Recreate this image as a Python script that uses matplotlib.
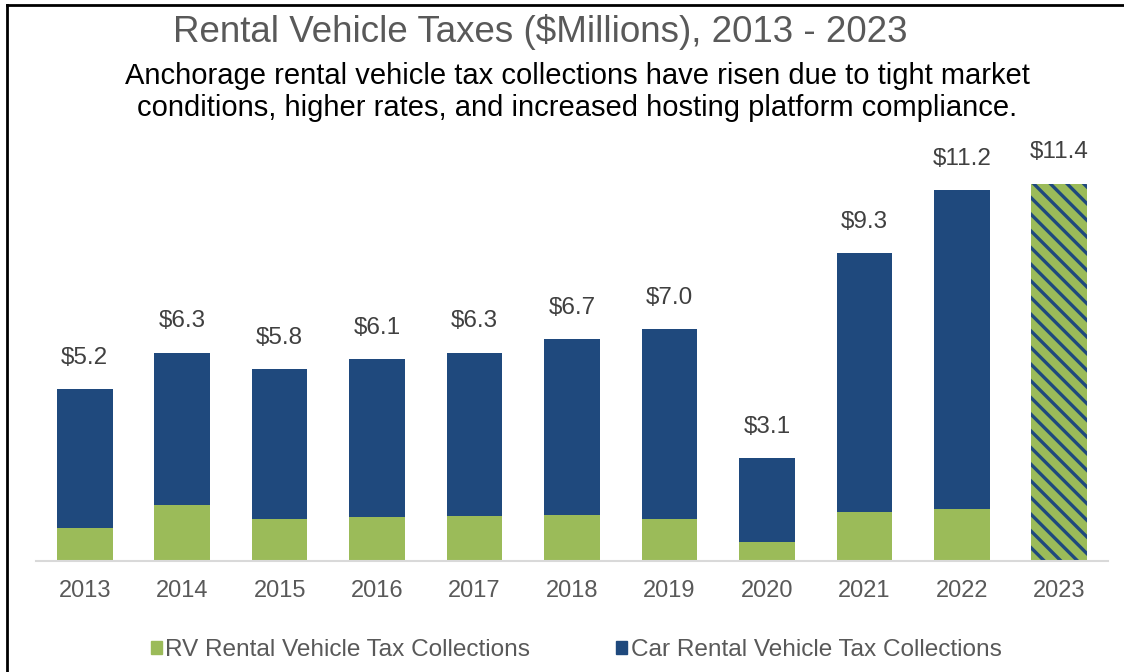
import matplotlib
matplotlib.use('Agg')
import matplotlib.pyplot as plt
from matplotlib.lines import Line2D
from matplotlib.patches import Patch

plt.rcParams['font.family'] = ['Liberation Sans', 'DejaVu Sans']
plt.rcParams['hatch.linewidth'] = 2.4

years = ['2013', '2014', '2015', '2016', '2017', '2018', '2019', '2020', '2021', '2022', '2023']
rv = [1.0, 1.7, 1.27, 1.33, 1.36, 1.4, 1.27, 0.57, 1.48, 1.57]
totals = [5.2, 6.3, 5.8, 6.1, 6.3, 6.7, 7.0, 3.1, 9.3, 11.2, 11.4]
car = [t - r for t, r in zip(totals[:10], rv)]

GREEN = '#9BBB59'
BLUE = '#1F497D'

fig = plt.figure(figsize=(11.24, 6.72), dpi=100)
ax = fig.add_axes([36 / 1124, 1 - 561 / 672, (1108 - 36) / 1124, (561 - 164) / 672])

x = list(range(len(years)))
w = 0.57
ax.bar(x[:10], rv, width=w, color=GREEN)
ax.bar(x[:10], car, width=w, bottom=rv, color=BLUE)
ax.bar(x[10], totals[10], width=w, color=GREEN, edgecolor=BLUE, linewidth=0, hatch='\\\\')

for xi, t in zip(x, totals):
    ax.text(xi, t + 0.95, f'${t:.1f}', ha='center', va='center', fontsize=17.5, color='#404040')

ax.set_xlim(-0.5, 10.5)
ax.set_ylim(0, 12)
ax.set_yticks([])
ax.set_xticks(x)
ax.set_xticklabels(years, fontsize=17, color='#595959')
ax.tick_params(axis='x', length=0, pad=14)
for s in ['top', 'right', 'left']:
    ax.spines[s].set_visible(False)
ax.spines['bottom'].set_color('#D9D9D9')
ax.spines['bottom'].set_linewidth(1.5)

fig.text(540 / 1124, 1 - 32 / 672, 'Rental Vehicle Taxes ($Millions), 2013 - 2023',
         ha='center', va='center', fontsize=26.5, color='#595959')
fig.text(577 / 1124, 1 - 92 / 672,
         'Anchorage rental vehicle tax collections have risen due to tight market\n'
         'conditions, higher rates, and increased hosting platform compliance.',
         ha='center', va='center', fontsize=21, color='black', linespacing=1.22)

handles = [Patch(color=GREEN), Patch(color=BLUE)]
leg = fig.legend(handles, ['RV Rental Vehicle Tax Collections', 'Car Rental Vehicle Tax Collections'],
                 loc='center', bbox_to_anchor=(576 / 1124, 1 - 650 / 672), ncol=2, frameon=False,
                 fontsize=17.6, handlelength=0.45, handleheight=0.45, handletextpad=0.15,
                 columnspacing=3.5, labelcolor='#595959')

# frame lines on top and left
fig.add_artist(Line2D([7 / 1124, 1], [1 - 5 / 672, 1 - 5 / 672], color='black', lw=2))
fig.add_artist(Line2D([7 / 1124, 7 / 1124], [0, 1 - 5 / 672], color='black', lw=2))

fig.savefig('out.png', dpi=100)
